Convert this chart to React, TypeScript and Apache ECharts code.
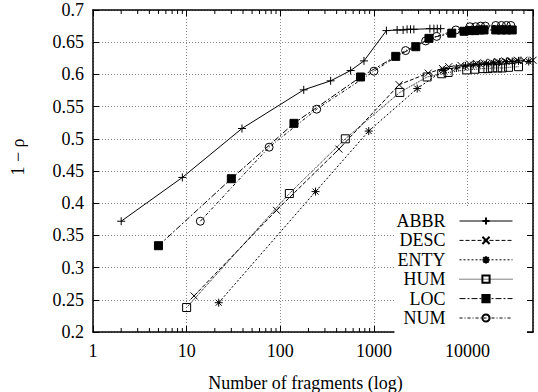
import React, { useEffect, useRef } from 'react';
import * as echarts from 'echarts';

const FONT = '"Liberation Serif", "DejaVu Serif", serif';

const SERIES_NAMES = ['ABBR', 'DESC', 'ENTY', 'HUM', 'LOC', 'NUM'];

const ABBR = [
  [2, 0.372], [9, 0.44], [39, 0.516], [178, 0.576], [345, 0.59], [564, 0.606], [783, 0.621],
  [1360, 0.668], [1770, 0.669], [2050, 0.669], [2260, 0.67], [2460, 0.67], [2670, 0.67],
  [3960, 0.671], [4370, 0.671], [4750, 0.671], [5160, 0.671],
];

const DESC = [
  [12, 0.256], [91, 0.389], [423, 0.484], [1860, 0.584], [3800, 0.602], [5400, 0.609],
  [6300, 0.612], [8500, 0.614], [10500, 0.616], [12500, 0.617], [15000, 0.618], [18000, 0.619],
  [21000, 0.62], [25000, 0.621], [29000, 0.621], [34000, 0.622], [40000, 0.622], [50000, 0.622],
];

const ENTY = [
  [22, 0.2455], [238, 0.418], [880, 0.512], [2900, 0.578], [5500, 0.606], [7600, 0.61],
  [9500, 0.613], [11500, 0.615], [13500, 0.616], [16000, 0.617], [19000, 0.618], [22000, 0.619],
  [26000, 0.62], [30000, 0.62], [35000, 0.621], [45000, 0.62],
];

const HUM = [
  [10, 0.238], [125, 0.415], [495, 0.5], [1890, 0.572], [3700, 0.596], [5300, 0.601],
  [6200, 0.603], [9800, 0.607], [12000, 0.608], [14500, 0.609], [16500, 0.609], [18500, 0.61],
  [21000, 0.61], [23500, 0.61], [27400, 0.611], [35000, 0.612],
];

const LOC = [
  [5, 0.334], [30, 0.438], [140, 0.524], [720, 0.596], [1710, 0.628], [2800, 0.643],
  [3870, 0.656], [6780, 0.664], [9170, 0.667], [10500, 0.668], [12000, 0.668], [13500, 0.669],
  [15000, 0.669], [20000, 0.669], [23000, 0.669], [26000, 0.669], [30000, 0.669],
];

const NUM = [
  [14, 0.372], [76, 0.487], [245, 0.546], [1000, 0.605], [2180, 0.637], [3570, 0.652],
  [4680, 0.659], [7500, 0.669], [10600, 0.674], [12200, 0.674], [13800, 0.675], [15500, 0.675],
  [20000, 0.676], [23000, 0.676], [26000, 0.676], [29000, 0.676],
];

const MINOR_TICKS = [
  2, 3, 4, 5, 6, 7, 8, 9,
  20, 30, 40, 50, 60, 70, 80, 90,
  200, 300, 400, 500, 600, 700, 800, 900,
  2000, 3000, 4000, 5000, 6000, 7000, 8000, 9000,
  20000, 30000, 40000,
];

const X_MIN = 1;
const X_MAX = 50000;
const Y_MIN = 0.2;
const Y_MAX = 0.7;

const PLUS = 'path://M0,-1 L0,1 M-1,0 L1,0';
const CROSS = 'path://M-1,-1 L1,1 M-1,1 L1,-1';
const STAR = 'path://M0,-1 L0,1 M-1,0 L1,0 M-0.75,-0.75 L0.75,0.75 M-0.75,0.75 L0.75,-0.75';
const SQUARE = 'path://M-1,-1 L1,-1 L1,1 L-1,1 Z';
const CIRCLE = 'path://M1,0 A1,1 0 1,1 -1,0 A1,1 0 1,1 1,0 Z';

function lineSeries(name: string, data: number[][], symbol: string, size: number, dash: any, fill: string) {
  return {
    type: 'line',
    name,
    data,
    symbol,
    symbolSize: size,
    showSymbol: true,
    showAllSymbol: true,
    lineStyle: { color: '#000', width: 1, type: dash },
    itemStyle: { color: fill, borderColor: '#000', borderWidth: 1 },
    emphasis: { disabled: true },
  };
}

export default function App() {
  const ref = useRef<HTMLDivElement>(null);
  useEffect(() => {
    if (!ref.current) return;
    const chart = echarts.init(ref.current, null, { renderer: 'svg' });
    const axisText = { fontFamily: FONT, fontSize: 18, color: '#000' };
    const option: any = {
      animation: false,
      backgroundColor: '#fff',
      grid: { left: 93, top: 10, right: 5, bottom: 60, containLabel: false },
      xAxis: [
        {
          type: 'log', logBase: 10, min: X_MIN, max: X_MAX, position: 'bottom',
          axisLine: { show: true, lineStyle: { color: '#000', width: 1.5 } },
          axisTick: { show: true, inside: true, length: 6, lineStyle: { color: '#000' } },
          axisLabel: { ...axisText, margin: 10, showMaxLabel: false, formatter: (v: number) => String(Math.round(v)) },
          splitLine: { show: true, lineStyle: { color: '#888', width: 1, type: [1, 2] } },
        },
        {
          type: 'log', logBase: 10, min: X_MIN, max: X_MAX, position: 'top',
          axisLine: { show: true, lineStyle: { color: '#000', width: 1.5 } },
          axisTick: { show: true, inside: true, length: 6, lineStyle: { color: '#000' } },
          axisLabel: { show: false },
          splitLine: { show: false },
        },
      ],
      yAxis: [
        {
          type: 'value', min: Y_MIN, max: Y_MAX, interval: 0.05, position: 'left',
          axisLine: { show: true, lineStyle: { color: '#000', width: 1.5 } },
          axisTick: { show: true, inside: true, length: 6, lineStyle: { color: '#000' } },
          axisLabel: { ...axisText, margin: 9, formatter: (v: number) => String(+v.toFixed(2)) },
          splitLine: { show: true, lineStyle: { color: '#888', width: 1, type: [1, 2] } },
        },
        {
          type: 'value', min: Y_MIN, max: Y_MAX, interval: 0.05, position: 'right',
          axisLine: { show: true, lineStyle: { color: '#000', width: 1.5 } },
          axisTick: { show: true, inside: true, length: 6, lineStyle: { color: '#000' } },
          axisLabel: { show: false },
          splitLine: { show: false },
        },
      ],
      legend: {
        data: SERIES_NAMES,
        orient: 'vertical',
        align: 'right',
        right: 11,
        bottom: 59,
        itemWidth: 53,
        itemHeight: 9,
        itemGap: 1.4,
        padding: [6, 14, 6, 2],
        backgroundColor: '#fff',
        lineStyle: { width: 1 },
        textStyle: { fontFamily: FONT, fontSize: 18, color: '#000', padding: [0, 9, 0, 0] },
        selectedMode: false,
      },
      graphic: [
        {
          type: 'text', x: 305.5, y: 383,
          style: { text: 'Number of fragments (log)', fontFamily: FONT, fontSize: 18, fill: '#000', align: 'center', verticalAlign: 'middle' },
        },
        {
          type: 'text', x: 18, y: 157, rotation: Math.PI / 2,
          style: { text: '1 − ρ', fontFamily: FONT, fontSize: 18, fill: '#000', align: 'center', verticalAlign: 'middle' },
        },
      ],
      series: [
        lineSeries('ABBR', ABBR, PLUS, 8, 'solid', '#000'),
        lineSeries('DESC', DESC, CROSS, 7, [4, 2], '#000'),
        lineSeries('ENTY', ENTY, STAR, 8, [2, 2], '#000'),
        lineSeries('HUM', HUM, SQUARE, 8, [1, 1], 'rgba(0,0,0,0)'),
        lineSeries('LOC', LOC, 'rect', 8, [6, 2, 2, 2], '#000'),
        lineSeries('NUM', NUM, CIRCLE, 8, [3, 2, 1, 2], 'rgba(0,0,0,0)'),
        {
          type: 'custom',
          name: 'minorTicks',
          silent: true,
          data: MINOR_TICKS.map((v) => [v, Y_MIN]),
          encode: { x: 0, y: 1 },
          clip: false,
          renderItem: (params: any, api: any) => {
            const v = api.value(0);
            const pb = api.coord([v, Y_MIN]);
            const pt = api.coord([v, Y_MAX]);
            return {
              type: 'group',
              children: [
                { type: 'line', shape: { x1: pb[0], y1: pb[1], x2: pb[0], y2: pb[1] - 4 }, style: { stroke: '#000', lineWidth: 1 } },
                { type: 'line', shape: { x1: pt[0], y1: pt[1], x2: pt[0], y2: pt[1] + 4 }, style: { stroke: '#000', lineWidth: 1 } },
              ],
            };
          },
        },
      ],
    };
    chart.setOption(option);
    return () => chart.dispose();
  }, []);
  return <div ref={ref} style={{ position: 'fixed', left: 0, top: 0, width: 538, height: 392 }} />;
}
